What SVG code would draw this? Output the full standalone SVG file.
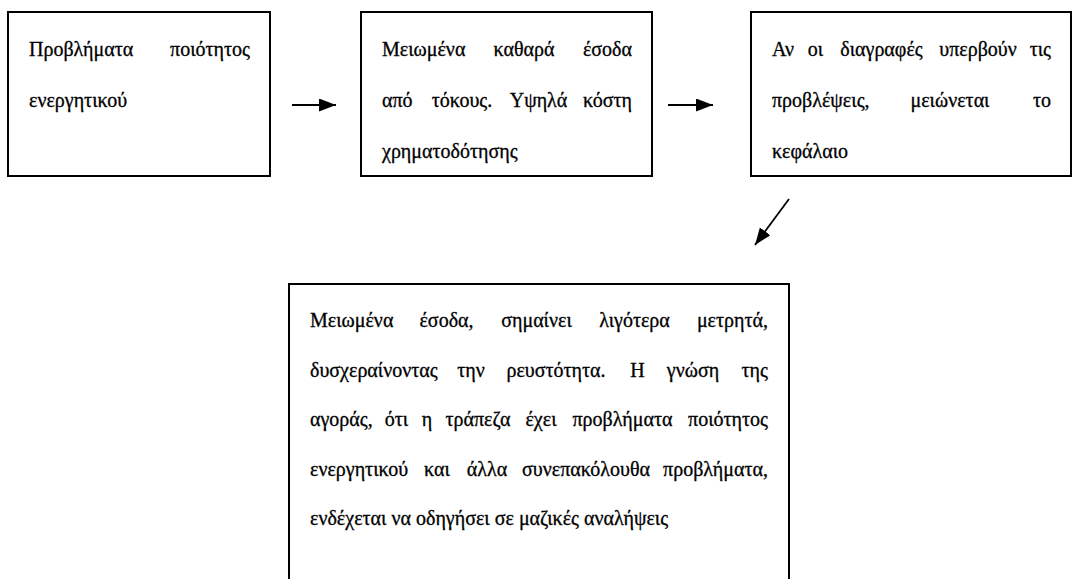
<svg xmlns="http://www.w3.org/2000/svg" width="1072" height="579" viewBox="0 0 1072 579">
<style>
.box{fill:#fff;stroke:#000;stroke-width:2}
.t{font-family:"Liberation Serif","Times New Roman",serif;font-size:20px;fill:#000;stroke:#000;stroke-width:0.3}
.m{text-anchor:middle}
.e{text-anchor:end}
.c{stroke:#000;stroke-width:1.8;fill:none;marker-end:url(#ah)}
</style>
<defs>
<marker id="ah" markerUnits="userSpaceOnUse" markerWidth="18" markerHeight="14" refX="17" refY="6.5" orient="auto">
<path d="M0,0 L17,6.5 L0,13 z" fill="#000"/>
</marker>
</defs>
<rect width="1072" height="579" fill="#fff"/>
<g id="connectors">
<line class="c" x1="292" y1="105" x2="336" y2="105"/>
<line class="c" x1="668" y1="105" x2="713" y2="105"/>
<line class="c" x1="789" y1="199" x2="755" y2="245"/>
</g>
<g id="node1">
<rect class="box" x="8" y="12" width="262" height="164"/>
<text class="t" x="29" y="56">Προβλήματα</text>
<text class="t e" x="250" y="56">ποιότητος</text>
<text class="t" x="29" y="107">ενεργητικού</text>
</g>
<g id="node2">
<rect class="box" x="361" y="12" width="291" height="164"/>
<text class="t" x="382" y="56">Μειωμένα</text>
<text class="t m" x="524" y="56">καθαρά</text>
<text class="t e" x="632" y="56">έσοδα</text>
<text class="t" x="382" y="107">από</text>
<text class="t m" x="462" y="107">τόκους.</text>
<text class="t m" x="538.5" y="107">Υψηλά</text>
<text class="t e" x="632" y="107">κόστη</text>
<text class="t" x="382" y="158">χρηματοδότησης</text>
</g>
<g id="node3">
<rect class="box" x="751" y="12" width="320" height="164"/>
<text class="t" x="772" y="56">Αν</text>
<text class="t m" x="815.5" y="56">οι</text>
<text class="t m" x="881.5" y="56">διαγραφές</text>
<text class="t m" x="978" y="56">υπερβούν</text>
<text class="t e" x="1051" y="56">τις</text>
<text class="t" x="772" y="107">προβλέψεις,</text>
<text class="t m" x="950" y="107">μειώνεται</text>
<text class="t e" x="1051" y="107">το</text>
<text class="t" x="772" y="158">κεφάλαιο</text>
</g>
<g id="node4">
<rect class="box" x="289" y="284" width="500" height="310"/>
<text class="t" x="310" y="327">Μειωμένα</text>
<text class="t m" x="446.5" y="327">έσοδα,</text>
<text class="t m" x="536.5" y="327">σημαίνει</text>
<text class="t m" x="634.5" y="327">λιγότερα</text>
<text class="t e" x="768" y="327">μετρητά,</text>
<text class="t" x="310" y="377">δυσχεραίνοντας</text>
<text class="t m" x="471" y="377">την</text>
<text class="t m" x="556" y="377">ρευστότητα.</text>
<text class="t m" x="637.5" y="377">Η</text>
<text class="t m" x="693" y="377">γνώση</text>
<text class="t e" x="768" y="377">της</text>
<text class="t" x="310" y="426">αγοράς,</text>
<text class="t m" x="396.5" y="426">ότι</text>
<text class="t m" x="427" y="426">η</text>
<text class="t m" x="478" y="426">τράπεζα</text>
<text class="t m" x="541" y="426">έχει</text>
<text class="t m" x="622.5" y="426">προβλήματα</text>
<text class="t e" x="768" y="426">ποιότητος</text>
<text class="t" x="310" y="476">ενεργητικού</text>
<text class="t m" x="437" y="476">και</text>
<text class="t m" x="487" y="476">άλλα</text>
<text class="t m" x="586" y="476">συνεπακόλουθα</text>
<text class="t e" x="768" y="476">προβλήματα,</text>
<text class="t" x="310" y="525">ενδέχεται να οδηγήσει σε μαζικές αναλήψεις</text>
</g>
</svg>
